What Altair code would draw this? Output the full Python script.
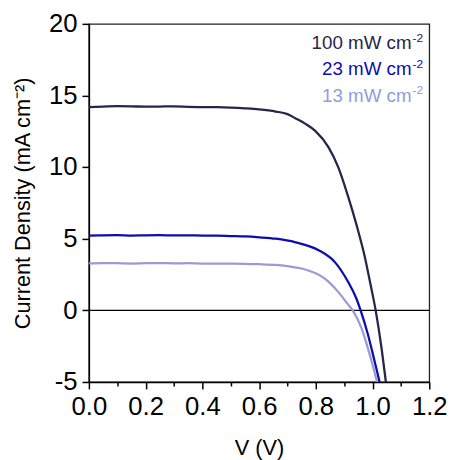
import altair as alt
import pandas as pd

# ---- data ----
v_100 = [0.00, 0.05, 0.10, 0.15, 0.20, 0.25, 0.30, 0.35, 0.40, 0.45, 0.50, 0.55, 0.60,
         0.659, 0.70, 0.729, 0.765, 0.798, 0.845, 0.879, 0.914, 0.943, 0.972, 0.993,
         1.011, 1.030, 1.047]
j_100 = [14.19, 14.22, 14.25, 14.24, 14.22, 14.23, 14.24, 14.21, 14.19, 14.18, 14.15, 14.10, 14.03,
         13.88, 13.70, 13.40, 13.00, 12.53, 11.38, 10.00, 7.94, 6.00, 3.80, 1.80,
         0.0, -2.4, -5.0]

v_23 = [0.00, 0.05, 0.10, 0.15, 0.20, 0.25, 0.30, 0.35, 0.40, 0.45, 0.50, 0.55, 0.60,
        0.659, 0.729, 0.81, 0.868, 0.914, 0.943, 0.958, 0.984, 1.007, 1.025]
j_23 = [5.22, 5.24, 5.25, 5.22, 5.24, 5.25, 5.23, 5.24, 5.22, 5.22, 5.19, 5.16, 5.10,
        5.00, 4.75, 4.20, 3.35, 1.98, 0.83, 0.0, -1.70, -3.53, -5.0]

v_13 = [0.00, 0.05, 0.10, 0.15, 0.20, 0.25, 0.30, 0.35, 0.40, 0.45, 0.50, 0.55, 0.60,
        0.659, 0.70, 0.763, 0.833, 0.879, 0.914, 0.930, 0.961, 0.990, 1.016]
j_13 = [3.28, 3.30, 3.29, 3.27, 3.29, 3.30, 3.28, 3.29, 3.27, 3.27, 3.26, 3.24, 3.22,
        3.17, 3.08, 2.85, 2.20, 1.29, 0.40, 0.0, -1.24, -3.08, -5.0]

series = ["13 mW cm⁻²", "23 mW cm⁻²", "100 mW cm⁻²"]
colors = ["#9a9ad6", "#0c0cb0", "#26264a"]
legend_main = ["100 mW cm", "23 mW cm", "13 mW cm"]
legend_sup = "-2"
legend_colors = ["#26264a", "#0c0cb0", "#8f9ce0"]

rows = []
for name, vs, js in [(series[0], v_13, j_13), (series[1], v_23, j_23), (series[2], v_100, j_100)]:
    for v, j in zip(vs, js):
        rows.append({"V": v, "J": j, "series": name})
df = pd.DataFrame(rows)

FONT = "Liberation Sans"

x_axis = alt.Axis(
    values=[round(i * 0.1, 1) for i in range(13)],
    labelExpr="round(datum.value*10) % 2 == 0 ? format(datum.value, '.1f') : ''",
    tickSize={"condition": {"test": "round(datum.value*10) % 2 == 1", "value": 4}, "value": 7},
    title="V (V)", grid=False, domainColor="black", tickColor="black", domainWidth=1.5,
    tickWidth=1.5, labelFontSize=26, labelColor="black", labelFont=FONT, labelPadding=5,
    labelFlush=False, labelOverlap=False,
    titleFontSize=22, titleFont=FONT, titleFontWeight="normal", titleColor="black",
    titlePadding=19,
)
y_axis = alt.Axis(
    values=[-5, -2.5, 0, 2.5, 5, 7.5, 10, 12.5, 15, 17.5, 20],
    labelExpr="datum.value % 5 == 0 ? '' + datum.value : ''",
    tickSize={"condition": {"test": "datum.value % 5 != 0", "value": 4}, "value": 7},
    title="Current Density (mA cm⁻²)", grid=False, domainColor="black", tickColor="black",
    domainWidth=1.5, tickWidth=1.5, labelFontSize=26, labelColor="black", labelFont=FONT,
    labelPadding=5, labelFlush=False, labelOverlap=False,
    titleFontSize=22, titleFont=FONT, titleFontWeight="normal",
    titleColor="black", titlePadding=14,
)

lines = alt.Chart(df).mark_line(interpolate="monotone", strokeWidth=2.3, clip=True).encode(
    x=alt.X("V:Q", scale=alt.Scale(domain=[0, 1.2], nice=False), axis=x_axis),
    y=alt.Y("J:Q", scale=alt.Scale(domain=[-5, 20], nice=False), axis=y_axis),
    color=alt.Color("series:N", scale=alt.Scale(domain=series, range=colors), legend=None),
)

zero = alt.Chart(pd.DataFrame({"y": [0]})).mark_rule(color="black", strokeWidth=1.2).encode(
    y="y:Q"
)

layers = [zero, lines]
base_y = [25.5, 52, 78.7]
for i in range(3):
    layers.append(
        alt.Chart(pd.DataFrame({"t": [legend_main[i]]})).mark_text(
            align="right", baseline="alphabetic", fontSize=19, font=FONT,
            color=legend_colors[i]
        ).encode(text="t:N", x=alt.value(327), y=alt.value(base_y[i]))
    )
    layers.append(
        alt.Chart(pd.DataFrame({"t": [legend_sup]})).mark_text(
            align="left", baseline="alphabetic", fontSize=12, font=FONT,
            color=legend_colors[i]
        ).encode(text="t:N", x=alt.value(328), y=alt.value(base_y[i] - 7.5))
    )

chart = alt.layer(*layers).properties(
    width=345, height=363,
    autosize=alt.AutoSizeParams(type="none"),
    padding={"left": 82, "top": 13, "right": 20, "bottom": 76},
).configure_view(stroke="#222222", strokeWidth=1.3)

chart.save("out.html", embed_options={"renderer": "svg", "actions": False})
